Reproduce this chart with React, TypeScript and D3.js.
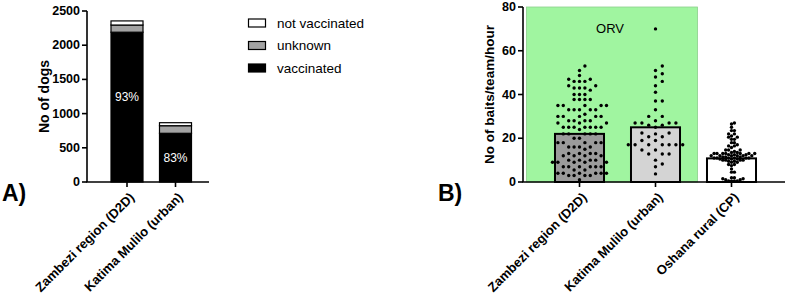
import React from "react";
import * as d3 from "d3";

// ---------- Panel A data ----------
const catsA = ["Zambezi region (D2D)", "Katima Mulilo (urban)"];
const vaccinated = [2190, 712];
const unknown = [105, 111];
const notVaccinated = [60, 44];
const pctLabels = ["93%", "83%"];
const pctLabelAt = [1250, 350];
const ticksA = [0, 500, 1000, 1500, 2000, 2500];
const legendA = ["not vaccinated", "unknown", "vaccinated"];

// ---------- Panel B data ----------
const catsB = ["Zambezi region (D2D)", "Katima Mulilo (urban)", "Oshana rural (CP)"];
const barMeans = [22, 25, 10.8];
const ticksB = [0, 20, 40, 60, 80];
const zambeziDots = [
  53, 51, 48.7, 47, 47, 46, 46, 46, 44, 44, 43, 43, 43, 42, 40, 40, 40,
  37.7, 37.7, 37.7, 37.7, 35, 35, 35, 35, 35, 33, 33, 33, 33, 33, 31,
  30, 30, 30, 30, 30, 28, 28, 28, 28, 27, 27, 27, 25, 25, 25, 25, 25, 25, 25,
  24, 22, 22, 22, 22, 22,
  20, 20, 18, 18, 18, 18, 18, 16, 16, 16, 16, 15, 13, 13, 13, 13, 12, 12, 12, 12,
  10, 10, 10, 10, 9, 9, 9, 9, 9, 7, 7, 7, 7, 7, 7, 5.5, 5.5, 4, 4, 4, 4, 4, 4,
  3, 3, 3, 3, 1,
];
const katimaDots = [
  70, 53, 51, 49.5, 48, 46, 44, 41, 37, 37, 33, 30, 30, 28, 27, 27, 27, 27, 26, 26,
  25, 22.4, 22.4, 22, 20.7, 20.7, 19, 19, 17, 17, 17, 17, 17, 17, 17, 14.6, 14.6,
  12.8, 12.8, 12.8, 10, 8.2, 7, 3.7,
];
const oshanaDots = [
  27, 26.5, 25, 23.5, 23.5, 22, 22, 21, 20.5, 20.5, 19.5, 19.5, 18, 18, 17, 16.5,
  16.5, 15.8, 14.6, 14.6, 14.6, 14, 13.5, 13.5, 13, 13, 13, 13, 13, 13, 13, 12.5,
  12.5, 12.5, 12, 12, 12, 12, 12, 12, 11.5, 11.5, 11.5, 11, 11, 11, 11, 11, 11,
  10.5, 10.5, 10.5, 10, 10, 10, 10, 9.5, 9.5, 9, 9, 8, 8, 7.5, 6, 4.5, 4.5, 2, 2,
  1.5, 1.5, 1, 1, 0.5, 0.5, 0.5, 0.5,
];
const dotsB = [zambeziDots, katimaDots, oshanaDots];
const barFills = ["#9b9b9b", "#d4d4d4", "#ffffff"];

const FONT = "'Liberation Sans', Arial, sans-serif";

function swarm(values: number[], y: (v: number) => number, cx: number, step: number, minDist: number) {
  const placed: { x: number; y: number }[] = [];
  const sorted = [...values].sort((a, b) => a - b);
  for (const v of sorted) {
    const py = y(v);
    for (let k = 0; k < 80; k++) {
      const off = k === 0 ? 0 : (k % 2 === 1 ? 1 : -1) * Math.ceil(k / 2) * step;
      const px = cx + off;
      const hit = placed.some((p) => (p.x - px) ** 2 + (p.y - py) ** 2 < minDist * minDist);
      if (!hit) {
        placed.push({ x: px, y: py });
        break;
      }
    }
  }
  return placed;
}

export default function App() {
  // Panel A scales
  const yA = d3.scaleLinear().domain([0, 2500]).range([182, 11]);
  const xA = d3.scaleBand<string>().domain(catsA).range([102.75, 199.75]).paddingInner(0.34).paddingOuter(0.17);
  const bwA = xA.bandwidth();

  // Panel B scales
  const yB = d3.scaleLinear().domain([0, 80]).range([182, 7]);
  const xB = d3.scaleBand<string>().domain(catsB).range([541.5, 769.5]).paddingInner(0.355).paddingOuter(0.1775);
  const bwB = xB.bandwidth();

  const stackKeys = ["vaccinated", "unknown", "notVaccinated"];
  const stackRows = catsA.map((c, i) => ({
    cat: c,
    vaccinated: vaccinated[i],
    unknown: unknown[i],
    notVaccinated: notVaccinated[i],
  }));
  const series = d3.stack<any>().keys(stackKeys)(stackRows);
  const stackFill: Record<string, string> = {
    vaccinated: "#000000",
    unknown: "#a3a3a3",
    notVaccinated: "#ffffff",
  };
  const legendFill = ["#ffffff", "#a3a3a3", "#000000"];

  const steps = [5.4, 6.8, 2.9];
  const dists = [5.0, 6.4, 2.8];
  const swarms = dotsB.map((vals, i) =>
    swarm(vals, (v) => yB(v), (xB(catsB[i]) as number) + bwB / 2, steps[i], dists[i])
  );

  return (
    <svg width={787} height={299} style={{ position: "absolute", left: 0, top: 0, background: "#fff" }} fontFamily={FONT}>
      <rect x={0} y={0} width={787} height={299} fill="#fff" />
      {/* ---------------- Panel A ---------------- */}
      {series.map((s) =>
        s.map((d, i) => (
          <rect
            key={s.key + i}
            x={xA(catsA[i])}
            y={yA(d[1])}
            width={bwA}
            height={yA(d[0]) - yA(d[1])}
            fill={stackFill[s.key]}
            stroke="#000"
            strokeWidth={1.2}
          />
        ))
      )}
      {catsA.map((c, i) => (
        <text
          key={"pct" + i}
          x={(xA(c) as number) + bwA / 2}
          y={yA(pctLabelAt[i])}
          fill="#fff"
          fontSize={12}
          textAnchor="middle"
          dominantBaseline="central"
        >
          {pctLabels[i]}
        </text>
      ))}
      {/* axes A */}
      <line x1={87} x2={87} y1={yA(2500)} y2={182} stroke="#000" strokeWidth={1.6} />
      <line x1={86.2} x2={209} y1={182} y2={182} stroke="#000" strokeWidth={1.6} />
      {ticksA.map((t) => (
        <g key={"ta" + t}>
          <line x1={82} x2={87} y1={yA(t)} y2={yA(t)} stroke="#000" strokeWidth={1.6} />
          <text x={80} y={yA(t)} fontSize={12.5} fontWeight="bold" textAnchor="end" dominantBaseline="central">
            {t}
          </text>
        </g>
      ))}
      {catsA.map((c) => {
        const cx = (xA(c) as number) + bwA / 2;
        return (
          <g key={"xa" + c}>
            <line x1={cx} x2={cx} y1={182} y2={187} stroke="#000" strokeWidth={1.6} />
            <text
              transform={`translate(${cx + 5},${195}) rotate(-45)`}
              fontSize={13}
              fontWeight="bold"
              textAnchor="end"
              dominantBaseline="central"
            >
              {c}
            </text>
          </g>
        );
      })}
      <text
        transform={`translate(44,${(yA(2500) + 182) / 2}) rotate(-90)`}
        fontSize={14}
        fontWeight="bold"
        textAnchor="middle"
        dominantBaseline="central"
      >
        No of dogs
      </text>
      <text x={2} y={201} fontSize={23} fontWeight="bold">
        A)
      </text>
      {/* legend */}
      {legendA.map((l, i) => (
        <g key={"lg" + i}>
          <rect x={248.5} y={19 + i * 22.5} width={17} height={8} fill={legendFill[i]} stroke="#000" strokeWidth={1.2} />
          <text x={277} y={23 + i * 22.5} fontSize={13.5} dominantBaseline="central">
            {l}
          </text>
        </g>
      ))}

      {/* ---------------- Panel B ---------------- */}
      <rect x={526.5} y={7} width={171} height={175} fill="#a0f5a0" stroke="#8ccf8c" strokeWidth={0.8} />
      <text x={610} y={28} fontSize={13} textAnchor="middle" dominantBaseline="central">
        ORV
      </text>
      {catsB.map((c, i) => (
        <rect
          key={"bb" + i}
          x={xB(c)}
          y={yB(barMeans[i])}
          width={bwB}
          height={yB(0) - yB(barMeans[i])}
          fill={barFills[i]}
          stroke="#000"
          strokeWidth={2}
        />
      ))}
      {swarms.map((pts, i) =>
        pts.map((p, j) => <circle key={"d" + i + "-" + j} cx={p.x} cy={p.y} r={1.7} fill="#000" />)
      )}
      {/* axes B */}
      <line x1={523} x2={523} y1={yB(80)} y2={182} stroke="#000" strokeWidth={1.6} />
      <line x1={522.2} x2={785} y1={182} y2={182} stroke="#000" strokeWidth={1.6} />
      {ticksB.map((t) => (
        <g key={"tb" + t}>
          <line x1={518} x2={523} y1={yB(t)} y2={yB(t)} stroke="#000" strokeWidth={1.6} />
          <text x={516} y={yB(t)} fontSize={12.5} fontWeight="bold" textAnchor="end" dominantBaseline="central">
            {t}
          </text>
        </g>
      ))}
      {catsB.map((c) => {
        const cx = (xB(c) as number) + bwB / 2;
        return (
          <g key={"xb" + c}>
            <line x1={cx} x2={cx} y1={182} y2={187} stroke="#000" strokeWidth={1.6} />
            <text
              transform={`translate(${cx + 5},${195}) rotate(-45)`}
              fontSize={13}
              fontWeight="bold"
              textAnchor="end"
              dominantBaseline="central"
            >
              {c}
            </text>
          </g>
        );
      })}
      <text
        transform={`translate(489,${(yB(80) + 182) / 2}) rotate(-90)`}
        fontSize={13.5}
        fontWeight="bold"
        textAnchor="middle"
        dominantBaseline="central"
      >
        No of baits/team/hour
      </text>
      <text x={438} y={201} fontSize={23} fontWeight="bold">
        B)
      </text>
    </svg>
  );
}
